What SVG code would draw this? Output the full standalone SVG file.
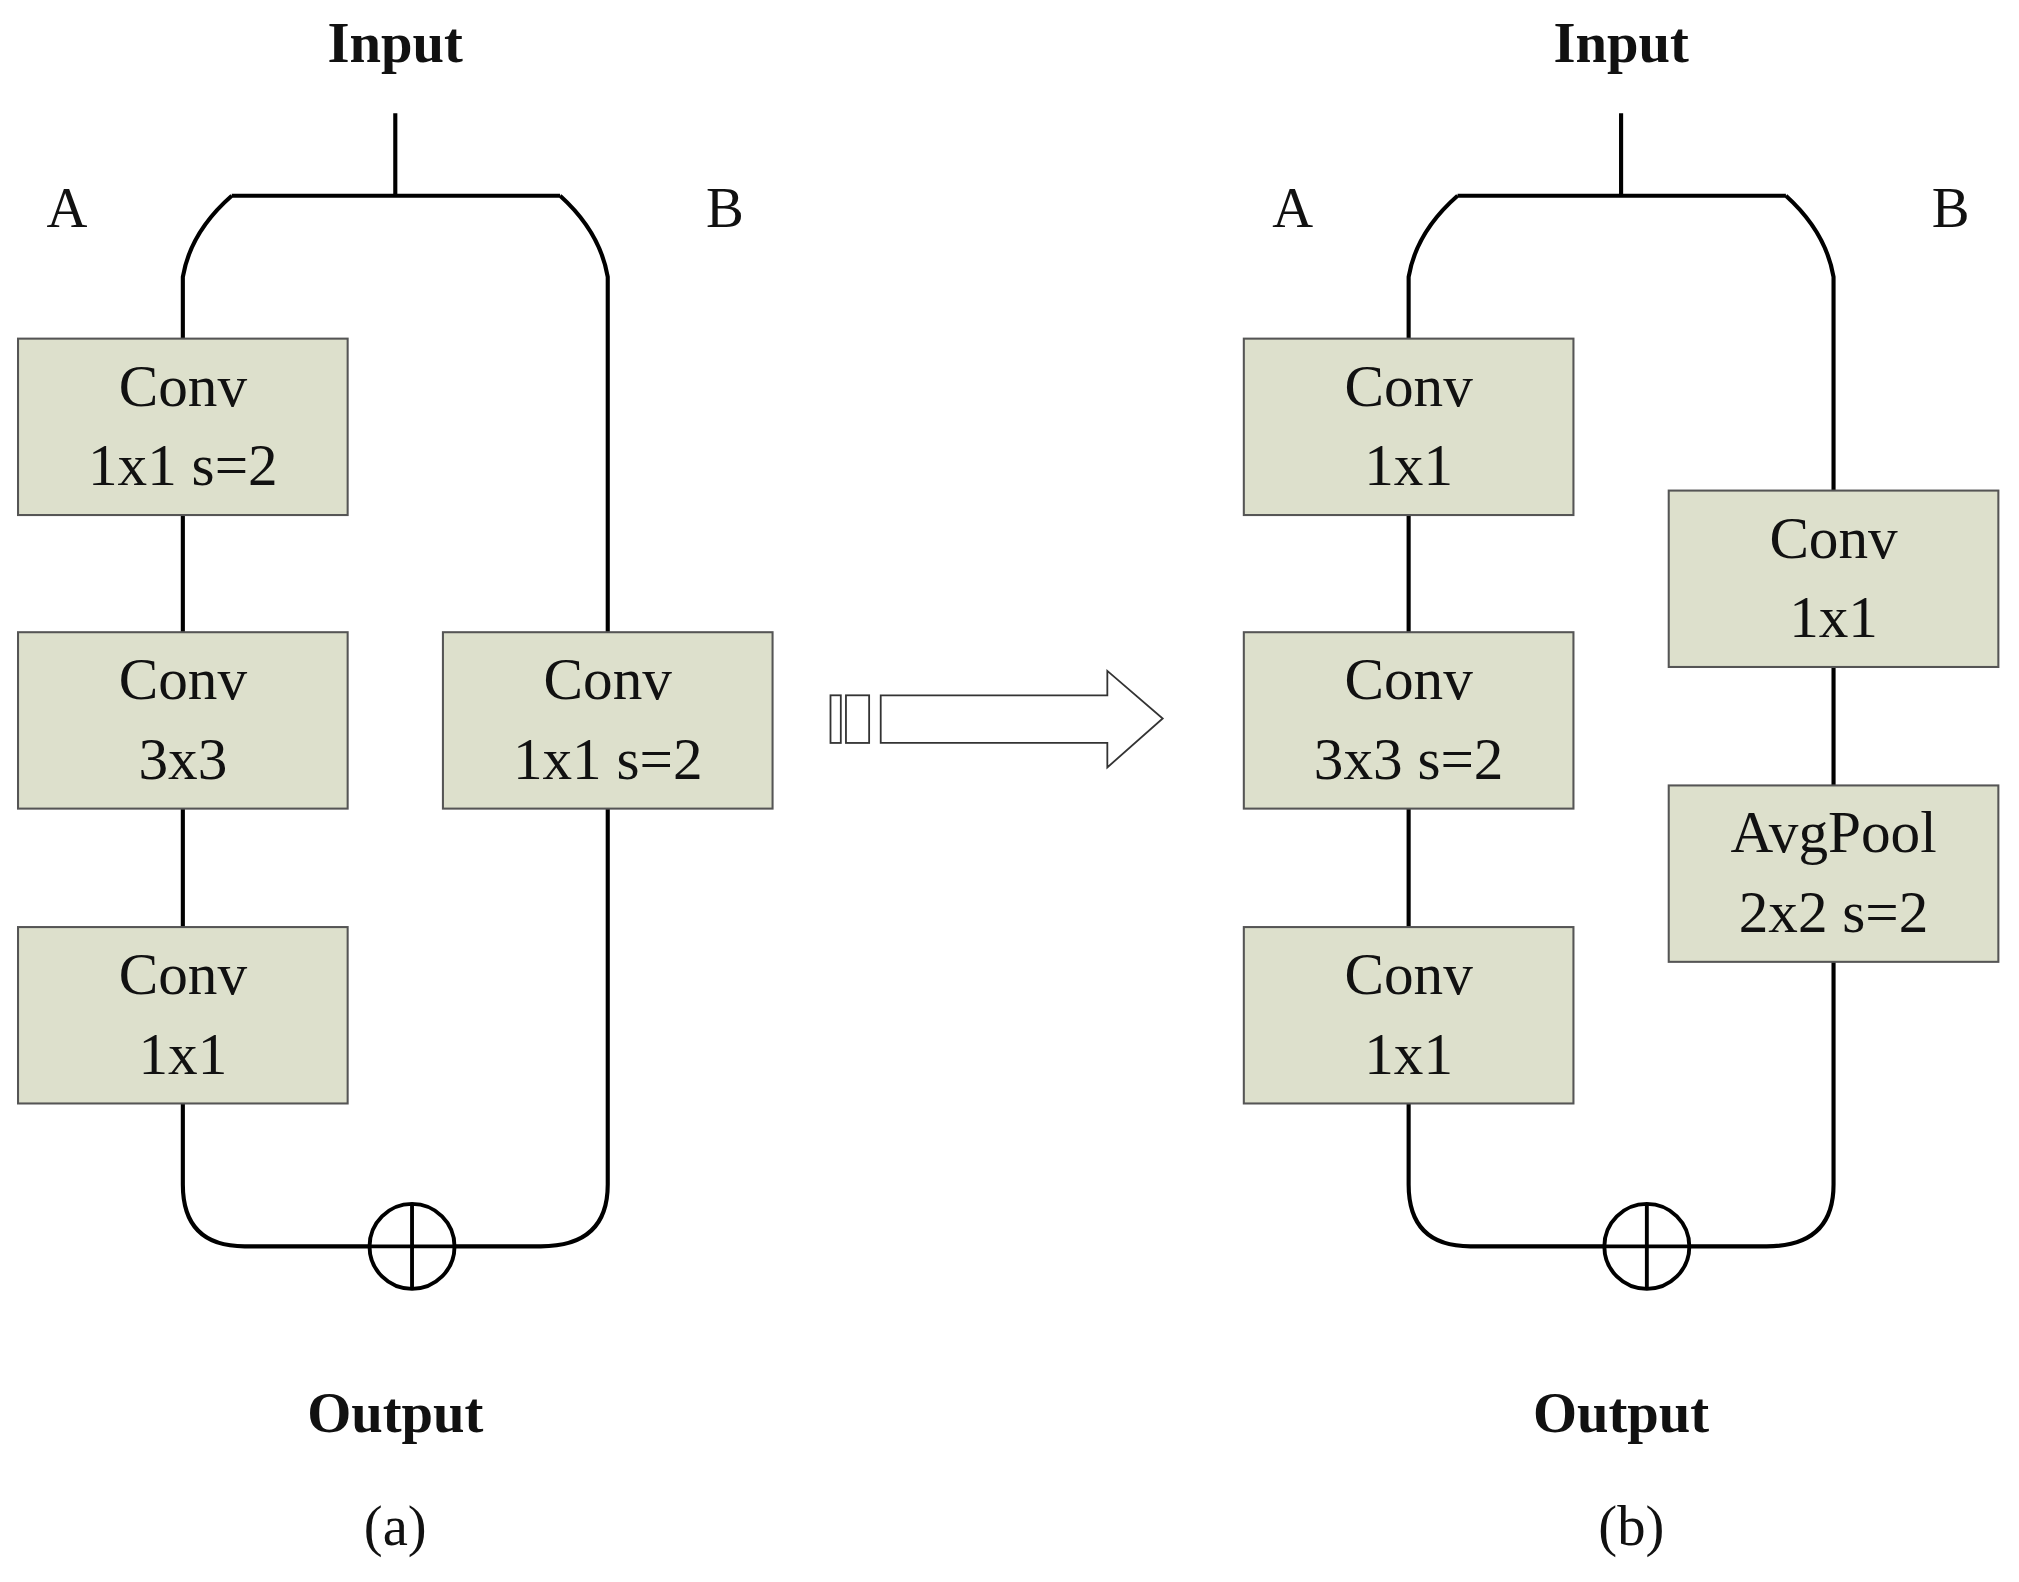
<svg xmlns="http://www.w3.org/2000/svg" width="2019" height="1582" viewBox="0 0 2019 1582">
<style>
.box{fill:#dde0cc;stroke:#555;stroke-width:1.6}
.ln{fill:none;stroke:#000;stroke-width:3.2}
.t{font-family:"Liberation Serif",serif;font-size:46px;text-anchor:middle;fill:#111}
.b{font-family:"Liberation Serif",serif;font-size:44px;font-weight:bold;text-anchor:middle;fill:#111}
.l{font-family:"Liberation Serif",serif;font-size:44px;text-anchor:middle;fill:#111}
</style>
<rect width="2019" height="1582" fill="#fff"/>
<g transform="scale(1.2876)">
<g id="connectors">
<path class="ln" d="M307 88V152M180 152H435M180 152Q148 180 142 215V263M435 152Q466 180 472 215V491M142 400V491M142 628V720M142 857V920Q142 968 190 968H286M354 968H420Q472 968 472 920V628"/>
<path class="ln" d="M1259 88V152M1132 152H1387M1132 152Q1100 180 1094 215V263M1387 152Q1418 180 1424 215V381M1094 400V491M1094 628V720M1424 518V610M1094 857V920Q1094 968 1142 968H1245M1313 968H1372Q1424 968 1424 920V747"/>
</g>
<g id="labels-a">
<text class="b" x="307" y="48">Input</text>
<text class="l" x="52" y="176">A</text>
<text class="l" x="563" y="176">B</text>
<text class="b" x="307" y="1112">Output</text>
<text class="l" x="307" y="1200">(a)</text>
</g>
<g id="a1"><rect class="box" x="14" y="263" width="256" height="137"/><text class="t" x="142" y="315">Conv</text><text class="t" x="142" y="377">1x1  s=2</text></g>
<g id="a2"><rect class="box" x="14" y="491" width="256" height="137"/><text class="t" x="142" y="543">Conv</text><text class="t" x="142" y="605">3x3</text></g>
<g id="a3"><rect class="box" x="14" y="720" width="256" height="137"/><text class="t" x="142" y="772">Conv</text><text class="t" x="142" y="834">1x1</text></g>
<g id="a4"><rect class="box" x="344" y="491" width="256" height="137"/><text class="t" x="472" y="543">Conv</text><text class="t" x="472" y="605">1x1  s=2</text></g>
<g id="sumA"><circle cx="320" cy="968" r="33" fill="#fff" stroke="#000" stroke-width="3"/><path d="M287 968H353M320 935V1001" stroke="#000" stroke-width="3"/></g>
<g id="arrow" fill="#fff" stroke="#333" stroke-width="1.4">
<rect x="645" y="540" width="8" height="37"/><rect x="657" y="540" width="18" height="37"/>
<path d="M684 540H860V521L903 558L860 596V577H684Z"/>
</g>
<g id="labels-b">
<text class="b" x="1259" y="48">Input</text>
<text class="l" x="1004" y="176">A</text>
<text class="l" x="1515" y="176">B</text>
<text class="b" x="1259" y="1112">Output</text>
<text class="l" x="1267" y="1200">(b)</text>
</g>
<g id="b1"><rect class="box" x="966" y="263" width="256" height="137"/><text class="t" x="1094" y="315">Conv</text><text class="t" x="1094" y="377">1x1</text></g>
<g id="b2"><rect class="box" x="966" y="491" width="256" height="137"/><text class="t" x="1094" y="543">Conv</text><text class="t" x="1094" y="605">3x3  s=2</text></g>
<g id="b3"><rect class="box" x="966" y="720" width="256" height="137"/><text class="t" x="1094" y="772">Conv</text><text class="t" x="1094" y="834">1x1</text></g>
<g id="b4"><rect class="box" x="1296" y="381" width="256" height="137"/><text class="t" x="1424" y="433">Conv</text><text class="t" x="1424" y="495">1x1</text></g>
<g id="b5"><rect class="box" x="1296" y="610" width="256" height="137"/><text class="t" x="1424" y="662">AvgPool</text><text class="t" x="1424" y="724">2x2  s=2</text></g>
<g id="sumB"><circle cx="1279" cy="968" r="33" fill="#fff" stroke="#000" stroke-width="3"/><path d="M1246 968H1312M1279 935V1001" stroke="#000" stroke-width="3"/></g>
</g>
</svg>
